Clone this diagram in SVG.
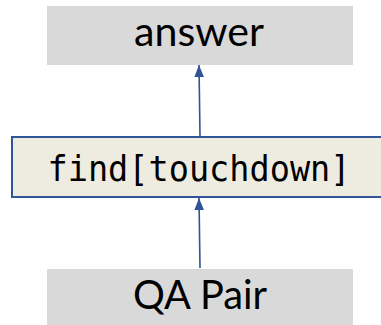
<svg xmlns="http://www.w3.org/2000/svg" width="381" height="325" viewBox="0 0 381 325">
  <style>
    .plain { fill: #d9d9d9; }
    .op { fill: #eeece1; stroke: #2f5597; stroke-width: 2; }
    .lbl { font-family: Lato, "Open Sans", "Liberation Sans", sans-serif; font-size: 40px; fill: #000; text-anchor: middle; }
    .mono { font-family: "DejaVu Sans Mono", "Liberation Mono", monospace; font-size: 36px; fill: #000; text-anchor: middle; }
    .edge { stroke: #2f5597; stroke-width: 1.6; fill: none; marker-end: url(#head); }
  </style>
  <defs>
    <marker id="head" viewBox="0 0 12 14" refX="12" refY="7" markerWidth="12" markerHeight="14" markerUnits="userSpaceOnUse" orient="auto">
      <path d="M0,2.2 L12,7 L0,11.8 Z" fill="#2f5597"/>
    </marker>
  </defs>

  <g id="answer">
    <rect class="plain" x="47" y="6" width="306" height="59"/>
    <text class="lbl" x="199" y="46" textLength="130" lengthAdjust="spacingAndGlyphs">answer</text>
  </g>

  <g id="find">
    <rect class="op" x="12" y="137" width="380" height="60"/>
    <text class="mono" x="199" y="181" textLength="303" lengthAdjust="spacingAndGlyphs">find[touchdown]</text>
  </g>

  <g id="qa-pair">
    <rect class="plain" x="47" y="269" width="306" height="60"/>
    <text class="lbl" x="200" y="309" textLength="134" lengthAdjust="spacingAndGlyphs">QA Pair</text>
  </g>

  <g id="connectors">
    <path class="edge" d="M200,136 L199,65"/>
    <path class="edge" d="M200,268 L199,198"/>
  </g>
</svg>
